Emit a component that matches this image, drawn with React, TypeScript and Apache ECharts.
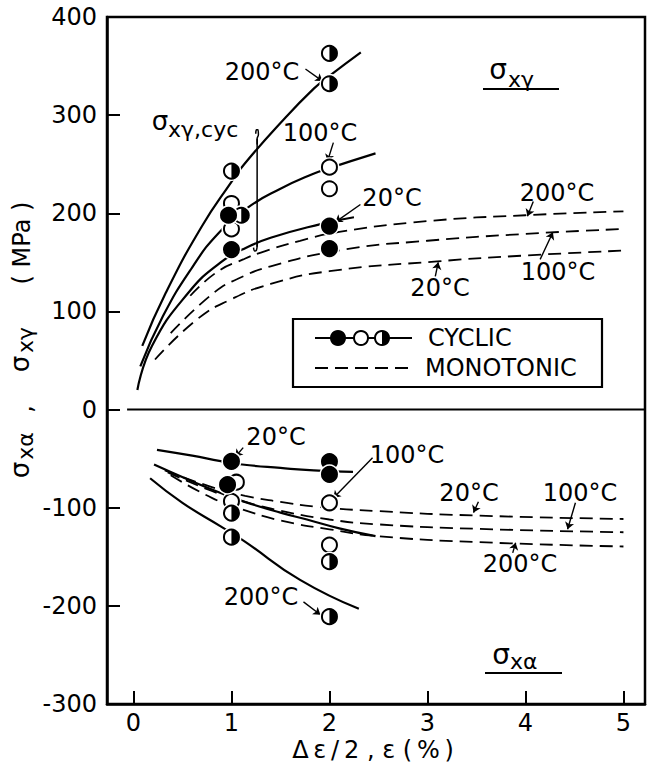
import { useEffect, useRef } from "react";
import * as echarts from "echarts";

// ---- axis ticks ----
const X_TICKS = [0, 1, 2, 3, 4, 5];

// ---- σxγ (upper half): cyclic curves ----
const cyc20Up = [[0.04, 20], [0.19, 65], [0.56, 119], [0.89, 150], [1.11, 163], [1.4, 175], [1.91, 189], [2.25, 196]];
const cyc100Up = [[0.07, 44], [0.3, 95], [0.6, 145], [0.87, 180], [1.17, 206], [1.5, 225], [1.83, 240], [2.0, 246], [2.47, 261]];
const cyc200Up = [[0.09, 65], [0.33, 119], [0.7, 187], [1.0, 232], [1.13, 250], [1.5, 292], [1.84, 327], [2.0, 340], [2.32, 364]];

// ---- σxγ: monotonic curves ----
const mono20Up = [[0.22, 51], [0.65, 92], [0.99, 112], [1.4, 128], [2.0, 141], [3.1, 151], [4.0, 157], [5.0, 162]];
const mono100Up = [[0.38, 78], [0.82, 119], [1.06, 133], [1.4, 146], [2.15, 163], [3.0, 172], [4.0, 179], [5.0, 184]];
const mono200Up = [[0.58, 116], [0.85, 140], [1.12, 153], [1.3, 160], [1.7, 172], [2.1, 181], [3.0, 192], [4.0, 198], [5.0, 202]];

// ---- σxα (lower half): cyclic curves ----
const cyc20Lo = [[0.24, -41], [0.6, -47], [0.89, -52.5], [1.11, -56], [1.5, -59.5], [1.84, -62], [2.24, -63.5]];
const cyc100Lo = [[0.21, -56], [0.55, -71], [0.89, -85], [1.12, -93.5], [1.5, -105], [1.77, -112], [2.1, -121], [2.47, -129]];
const cyc200Lo = [[0.17, -70], [0.5, -95], [0.89, -119], [1.13, -134], [1.7, -173.5], [2.3, -203]];

// ---- σxα: monotonic curves ----
const mono20Lo = [[0.32, -62], [0.8, -79], [1.14, -88], [1.5, -94], [1.87, -99], [2.5, -103.5], [3.5, -108], [5.0, -111.5]];
const mono100Lo = [[0.35, -64], [0.8, -83], [1.1, -93], [1.5, -103], [2.0, -112], [2.5, -117], [3.5, -121.5], [5.0, -125]];
const mono200Lo = [[0.38, -67], [0.8, -90], [1.09, -101], [1.5, -113], [2.0, -122], [2.5, -129], [3.5, -135], [5.0, -139.5]];

// ---- measured points: filled = 20°C, open = 100°C, half = 200°C ----
const filledPts = [[1, 163], [0.97, 198], [2, 187], [2, 164], [1, -52.7], [0.96, -76.5], [2, -53], [2, -66]];
const openPts = [[1, 184], [1, 210], [2, 247], [2, 225], [1.05, -74], [1, -93.5], [2, -95], [2, -138]];
const halfPts = [[1, 243], [1.1, 198], [2, 363], [2, 332], [1, -105.5], [1, -130], [2, -155], [2, -211]];

// ---- bracket for σxγ,cyc ----
const bracketLine = [[1.262, 166], [1.262, 276]];
const bracketTop = [[1.262, 270], [1.262, 276], [1.275, 280], [1.27, 285], [1.255, 285], [1.248, 281]];
const bracketBottom = [[1.262, 172], [1.262, 167], [1.255, 162.5], [1.238, 161.5], [1.225, 165]];

// ---- leader arrows from temperature labels ----
const labelArrows = [
  [[1.755, 347], [1.929, 334.7]],
  [[2.04, 272], [1.98, 253]],
  [[2.316, 209], [2.06, 191]],
  [[4.08, 212], [4.02, 197]],
  [[4.15, 153], [4.28, 180.6]],
  [[3.08, 135.7], [3.11, 150]],
  [[1.12, -38.8], [1.04, -48]],
  [[2.44, -49], [2.04, -90]],
  [[3.52, -94], [3.47, -105]],
  [[4.51, -95], [4.43, -122]],
  [[3.87, -146], [3.9, -135.7]],
  [[1.735, -196], [1.908, -209]],
];

const FONT = '"DejaVu Sans", sans-serif';
const INK = "#000";
const R = 7.5;

const curve = (data: number[][], dashed: boolean) => ({
  type: "line",
  data,
  showSymbol: false,
  silent: true,
  smooth: 0.5,
  z: 2,
  lineStyle: { color: INK, width: dashed ? 1.8 : 2.2, type: dashed ? [13, 7] : "solid" },
});

const plain = (data: number[][], width: number) => ({
  type: "line",
  data,
  showSymbol: false,
  silent: true,
  smooth: 0.4,
  z: 2,
  lineStyle: { color: INK, width },
});

const markers = (data: number[][], kind: "filled" | "open" | "half") => ({
  type: "custom",
  data,
  silent: true,
  z: 5,
  encode: { x: 0, y: 1 },
  renderItem: (_p: any, api: any) => {
    const c = api.coord([api.value(0), api.value(1)]);
    const cx = c[0];
    const cy = c[1];
    const children: any[] = [
      { type: "circle", shape: { cx, cy, r: R + 2.5 }, style: { fill: "#fff" } },
      {
        type: "circle",
        shape: { cx, cy, r: R },
        style: { fill: kind === "filled" ? INK : "#fff", stroke: INK, lineWidth: 2 },
      },
    ];
    if (kind === "half") {
      children.push({
        type: "sector",
        shape: { cx, cy, r0: 0, r: R, startAngle: -Math.PI / 2, endAngle: Math.PI / 2, clockwise: true },
        style: { fill: INK },
      });
    }
    return { type: "group", children };
  },
});

const txt = (text: string, x: number, y: number, size = 24, align = "center", extra: any = {}) => ({
  type: "text",
  x,
  y,
  silent: true,
  z: 20,
  ...extra,
  style: { text, fill: INK, fontSize: size, fontFamily: FONT, align, verticalAlign: "middle" },
});

const vtxt = (text: string, x: number, y: number, size = 24) =>
  txt(text, x, y, size, "center", { rotation: Math.PI / 2 });

export default function App() {
  const ref = useRef<HTMLDivElement>(null);

  useEffect(() => {
    if (!ref.current) return;
    const chart = echarts.init(ref.current, null, { renderer: "svg" });

    const option: any = {
      animation: false,
      backgroundColor: "#fff",
      grid: {
        left: 107,
        right: 7,
        top: 17,
        bottom: 64,
        show: true,
        borderColor: INK,
        borderWidth: 2.5,
      },
      xAxis: {
        type: "value",
        min: -0.27,
        max: 5.22,
        splitLine: { show: false },
        axisLine: { onZero: false, lineStyle: { color: INK, width: 2.5 } },
        axisTick: { inside: true, length: 13, customValues: X_TICKS, lineStyle: { color: INK, width: 2 } },
        axisLabel: {
          customValues: X_TICKS,
          color: INK,
          fontSize: 24,
          fontFamily: FONT,
          margin: 7,
        },
      },
      yAxis: {
        type: "value",
        min: -300,
        max: 400,
        interval: 100,
        splitLine: { show: false },
        axisLine: { onZero: false, lineStyle: { color: INK, width: 2.5 } },
        axisTick: { inside: true, length: 13, lineStyle: { color: INK, width: 2 } },
        axisLabel: { color: INK, fontSize: 24, fontFamily: FONT, margin: 10 },
      },
      series: [
        plain([[-0.065, 0], [5.22, 0]], 2),
        curve(cyc20Up, false),
        curve(cyc100Up, false),
        curve(cyc200Up, false),
        curve(mono20Up, true),
        curve(mono100Up, true),
        curve(mono200Up, true),
        curve(cyc20Lo, false),
        curve(cyc100Lo, false),
        curve(cyc200Lo, false),
        curve(mono20Lo, true),
        curve(mono100Lo, true),
        curve(mono200Lo, true),
        plain(bracketLine, 1.5),
        plain(bracketTop, 1.5),
        plain(bracketBottom, 1.5),
        {
          type: "lines",
          coordinateSystem: "cartesian2d",
          silent: true,
          z: 4,
          symbol: ["none", "arrow"],
          symbolSize: 7,
          itemStyle: { color: INK },
          lineStyle: { color: INK, width: 1.4, opacity: 1, curveness: 0 },
          data: labelArrows.map((coords) => ({ coords })),
        },
        markers(openPts, "open"),
        markers(halfPts, "half"),
        markers(filledPts, "filled"),
      ],
      graphic: [
        // curve labels, upper half
        txt("200°C", 262, 72),
        txt("100°C", 320, 133),
        txt("20°C", 392, 198),
        txt("200°C", 557, 193),
        txt("100°C", 558, 272),
        txt("20°C", 440, 288),
        // curve labels, lower half
        txt("20°C", 276, 437),
        txt("100°C", 407, 455),
        txt("20°C", 469, 493),
        txt("100°C", 580, 493),
        txt("200°C", 520, 564),
        txt("200°C", 261, 597),
        // σxγ,cyc
        txt("σ", 160, 121, 26),
        txt("xγ,cyc", 168, 129, 22, "left"),
        // σxγ title
        txt("σ", 498, 69, 28),
        txt("xγ", 508, 79, 22, "left"),
        { type: "line", z: 20, silent: true, shape: { x1: 483, y1: 89, x2: 559, y2: 89 }, style: { stroke: INK, lineWidth: 2 } },
        // σxα title
        txt("σ", 501, 654, 28),
        txt("xα", 510, 661, 22, "left"),
        { type: "line", z: 20, silent: true, shape: { x1: 485, y1: 673, x2: 562, y2: 673 }, style: { stroke: INK, lineWidth: 2 } },
        // y-axis title
        vtxt("σ", 20, 470, 26),
        vtxt("xα", 25, 446, 22),
        vtxt(",", 24, 409, 24),
        vtxt("σ", 20, 364, 26),
        vtxt("xγ", 25, 340, 22),
        vtxt("( MPa )", 22, 243, 24),
        // x-axis title
        txt("Δ\u2009ε\u2009/\u20092 , ε (\u2009%\u2009)", 373, 750, 24),
        // legend
        {
          type: "group",
          z: 15,
          silent: true,
          children: [
            { type: "rect", shape: { x: 293, y: 319, width: 309, height: 68 }, style: { fill: "#fff", stroke: INK, lineWidth: 2.2 } },
            { type: "line", shape: { x1: 315, y1: 338, x2: 412, y2: 338 }, style: { stroke: INK, lineWidth: 2.2 } },
            { type: "circle", shape: { cx: 338, cy: 338, r: 7 }, style: { fill: INK, stroke: INK, lineWidth: 2 } },
            { type: "circle", shape: { cx: 361, cy: 338, r: 7 }, style: { fill: "#fff", stroke: INK, lineWidth: 2 } },
            { type: "circle", shape: { cx: 382, cy: 338, r: 7 }, style: { fill: "#fff", stroke: INK, lineWidth: 2 } },
            {
              type: "sector",
              shape: { cx: 382, cy: 338, r0: 0, r: 7, startAngle: -Math.PI / 2, endAngle: Math.PI / 2, clockwise: true },
              style: { fill: INK },
            },
            { type: "line", shape: { x1: 315, y1: 368, x2: 412, y2: 368 }, style: { stroke: INK, lineWidth: 1.8, lineDash: [13, 7] } },
            { type: "text", x: 428, y: 338, style: { text: "CYCLIC", fill: INK, fontSize: 24, fontFamily: FONT, align: "left", verticalAlign: "middle" } },
            { type: "text", x: 425, y: 368, style: { text: "MONOTONIC", fill: INK, fontSize: 24, fontFamily: FONT, align: "left", verticalAlign: "middle" } },
          ],
        },
      ],
    };

    chart.setOption(option);
    return () => chart.dispose();
  }, []);

  return (
    <div
      ref={ref}
      style={{ position: "absolute", left: 0, top: 0, width: 652, height: 768, background: "#fff" }}
    />
  );
}
